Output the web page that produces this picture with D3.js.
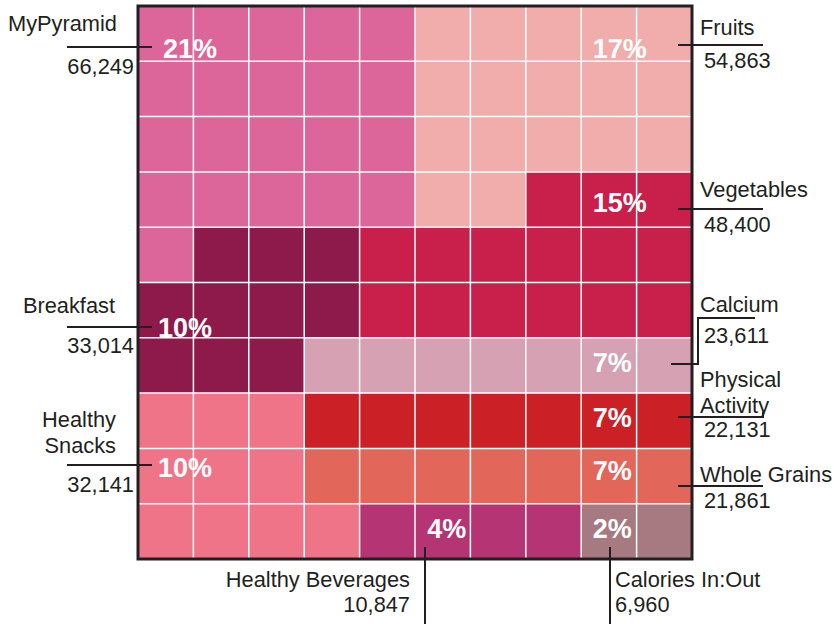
<!DOCTYPE html>
<html>
<head>
<meta charset="utf-8">
<script src="https://cdn.jsdelivr.net/npm/d3@7"></script>
<style>
  html, body { margin: 0; padding: 0; background: #ffffff; }
  svg { display: block; }
  text { font-family: "Liberation Sans", Arial, Helvetica, sans-serif; }
</style>
</head>
<body>
<svg id="chart" width="834" height="624"></svg>
<script>
// ---------------- DATA ----------------
const categories = ["MyPyramid", "Fruits", "Vegetables", "Breakfast", "Calcium",
  "Physical Activity", "Whole Grains", "Healthy Snacks", "Healthy Beverages", "Calories In:Out"];
const visits = [66249, 54863, 48400, 33014, 23611, 22131, 21861, 32141, 10847, 6960];
const percents = [21, 17, 15, 10, 7, 7, 7, 10, 4, 2];
const colors = ["#DC6699", "#F0ADAC", "#C81F4B", "#8D1A4A", "#D5A1B3",
  "#CC2027", "#E2675A", "#F07487", "#B53474", "#A67A80"];
// waffle assignment: category index of each cell, row by row (10 x 10 = 100 cells)
const waffleRows = [
  "0000011111",
  "0000011111",
  "0000011111",
  "0000011222",
  "0333222222",
  "3333222222",
  "3334444444",
  "7775555555",
  "7776666666",
  "7777888899"
];

// ---------------- LAYOUT ----------------
const svg = d3.select("#chart");
const x = d3.scaleLinear().domain([0, 10]).range([138, 692]);
const y = d3.scaleLinear().domain([0, 10]).range([6, 559]);
const ink = "#231F20";

const cells = [];
waffleRows.forEach((row, r) => {
  row.split("").forEach((c, col) => cells.push({ r, col, cat: +c }));
});

svg.append("g").selectAll("rect").data(cells).join("rect")
  .attr("x", d => x(d.col)).attr("y", d => y(d.r))
  .attr("width", x(1) - x(0)).attr("height", y(1) - y(0))
  .attr("fill", d => colors[d.cat]);

// white grid lines
const gl = svg.append("g").attr("stroke", "#ffffff").attr("stroke-width", 1.5);
d3.range(1, 10).forEach(i => {
  gl.append("line").attr("x1", x(i)).attr("x2", x(i)).attr("y1", y(0)).attr("y2", y(10));
  gl.append("line").attr("y1", y(i)).attr("y2", y(i)).attr("x1", x(0)).attr("x2", x(10));
});

// frame
svg.append("rect").attr("x", x(0)).attr("y", y(0))
  .attr("width", x(10) - x(0)).attr("height", y(10) - y(0))
  .attr("fill", "none").attr("stroke", ink).attr("stroke-width", 3);

// ---------------- ANNOTATIONS ----------------
const fmt = d3.format(",");
// name: [x, first baseline, anchor, line gap]
const ann = [
  { pc: [0.45, 0.94], path: [[67, 47], [152, 47]], name: [117, 31, "end", 0], val: [134, 74, "end"] },
  { pc: [8.21, 0.94], path: [[678, 45], [763, 45]], name: [700, 35, "start", 0], val: [704, 68, "start"] },
  { pc: [8.21, 3.72], path: [[678, 209], [763, 209]], name: [700, 197, "start", 0], val: [704, 232, "start"] },
  { pc: [0.36, 5.99], path: [[67, 327], [152, 327]], name: [115, 313, "end", 0], val: [134, 353, "end"] },
  { pc: [8.21, 6.62], path: [[671, 364], [698, 364], [698, 318], [755, 318]], name: [700, 312, "start", 0], val: [704, 343, "start"] },
  { pc: [8.21, 7.61], path: [[678, 417], [763, 417], [763, 412]], name: [700, 387, "start", 25.5], val: [704, 437, "start"] },
  { pc: [8.21, 8.57], path: [[678, 486], [763, 486]], name: [700, 482, "start", 0], val: [704, 508, "start"] },
  { pc: [0.36, 8.52], path: [[67, 465], [152, 465]], name: [116, 427, "end", 26], val: [134, 492, "end"] },
  { pc: [5.22, 9.62], path: [[425, 547], [425, 624]], name: [410, 587, "end", 0], val: [410, 612, "end"] },
  { pc: [8.21, 9.62], path: [[610, 547], [610, 624]], name: [615, 587, "start", 0], val: [615, 612, "start"] }
];
const nameLines = [
  ["MyPyramid"], ["Fruits"], ["Vegetables"], ["Breakfast"], ["Calcium"],
  ["Physical", "Activity"], ["Whole Grains"], ["Healthy", "Snacks"], ["Healthy Beverages"], ["Calories In:Out"]
];

const line = d3.line();
const ga = svg.append("g");
categories.forEach((cat, i) => {
  const a = ann[i];
  ga.append("text")
    .attr("x", x(a.pc[0])).attr("y", y(a.pc[1]))
    .attr("fill", "#ffffff").attr("font-weight", "bold").attr("font-size", 27)
    .text(percents[i] + "%");
  ga.append("path").attr("d", line(a.path))
    .attr("fill", "none").attr("stroke", ink).attr("stroke-width", 2);
  const p = a.name;
  const t = ga.append("text").attr("x", p[0]).attr("y", p[1]).attr("text-anchor", p[2])
    .attr("fill", ink).attr("font-size", 21.8);
  nameLines[i].forEach((s, k) => {
    t.append("tspan").attr("x", p[0]).attr("dy", k === 0 ? 0 : p[3]).text(s);
  });
  ga.append("text").attr("x", a.val[0]).attr("y", a.val[1]).attr("text-anchor", a.val[2])
    .attr("fill", ink).attr("font-size", 21.8).text(fmt(visits[i]));
});
</script>
</body>
</html>
